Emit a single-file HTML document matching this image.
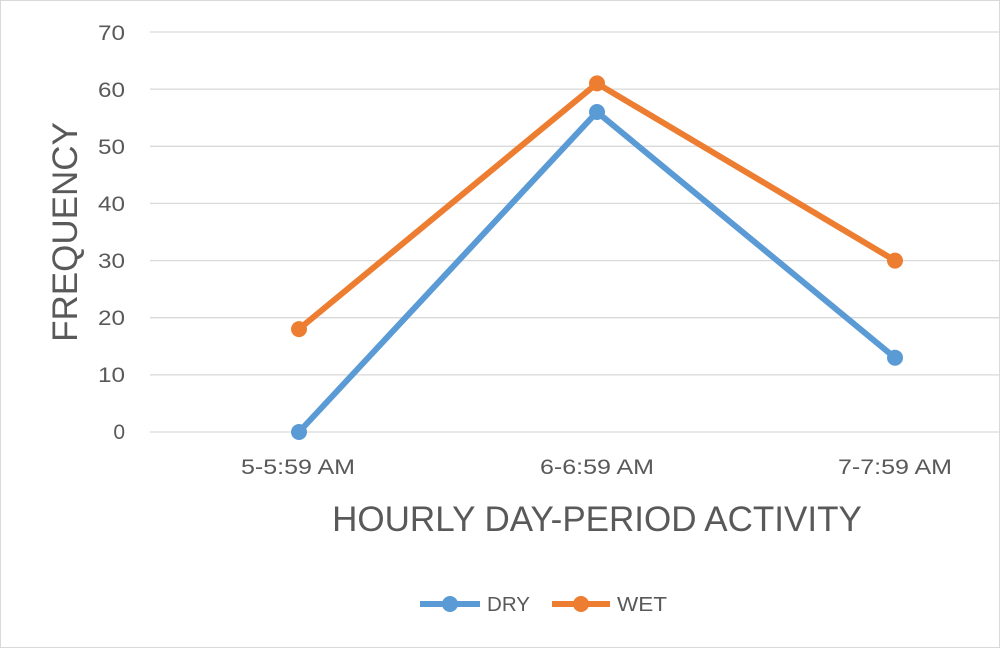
<!DOCTYPE html>
<html><head><meta charset="utf-8"><style>
html,body{margin:0;padding:0;background:#fff;}
svg{display:block;font-family:"Liberation Sans",sans-serif;}
</style></head><body>
<svg width="1000" height="648" viewBox="0 0 1000 648">
<rect x="0.5" y="0.5" width="999" height="647" fill="#fff" stroke="#d9d9d9"/>
<g stroke="#d9d9d9" stroke-width="1.3">
<line x1="150" y1="32" x2="1000" y2="32"/>
<line x1="150" y1="89.1" x2="1000" y2="89.1"/>
<line x1="150" y1="146.3" x2="1000" y2="146.3"/>
<line x1="150" y1="203.4" x2="1000" y2="203.4"/>
<line x1="150" y1="260.6" x2="1000" y2="260.6"/>
<line x1="150" y1="317.7" x2="1000" y2="317.7"/>
<line x1="150" y1="374.9" x2="1000" y2="374.9"/>
<line x1="150" y1="432" x2="1000" y2="432"/>
</g>
<g fill="#595959" font-size="21" text-anchor="end" lengthAdjust="spacingAndGlyphs">
<text x="125" y="40" textLength="27" lengthAdjust="spacingAndGlyphs">70</text>
<text x="125" y="97" textLength="27" lengthAdjust="spacingAndGlyphs">60</text>
<text x="125" y="154" textLength="27" lengthAdjust="spacingAndGlyphs">50</text>
<text x="125" y="211" textLength="27" lengthAdjust="spacingAndGlyphs">40</text>
<text x="125" y="268" textLength="27" lengthAdjust="spacingAndGlyphs">30</text>
<text x="125" y="325" textLength="27" lengthAdjust="spacingAndGlyphs">20</text>
<text x="125" y="382" textLength="27" lengthAdjust="spacingAndGlyphs">10</text>
<text x="125" y="439">0</text>
</g>
<g fill="#595959" font-size="21">
<text x="241" y="474" textLength="114" lengthAdjust="spacingAndGlyphs">5-5:59 AM</text>
<text x="540" y="474" textLength="114" lengthAdjust="spacingAndGlyphs">6-6:59 AM</text>
<text x="838" y="474" textLength="114" lengthAdjust="spacingAndGlyphs">7-7:59 AM</text>
</g>
<text x="597" y="531" fill="#595959" font-size="35" text-anchor="middle">HOURLY DAY-PERIOD ACTIVITY</text>
<text transform="translate(77,232) rotate(-90)" fill="#595959" font-size="35" text-anchor="middle">FREQUENCY</text>
<polyline points="299,432 597,112 895,357.7" fill="none" stroke="#5b9bd5" stroke-width="6" stroke-linejoin="round"/>
<polyline points="299,329.1 597,83.4 895,260.6" fill="none" stroke="#ed7d31" stroke-width="6" stroke-linejoin="round"/>
<g fill="#5b9bd5"><circle cx="299" cy="432" r="8"/><circle cx="597" cy="112" r="8"/><circle cx="895" cy="357.7" r="8"/></g>
<g fill="#ed7d31"><circle cx="299" cy="329.1" r="8"/><circle cx="597" cy="83.4" r="8"/><circle cx="895" cy="260.6" r="8"/></g>
<line x1="420" y1="604" x2="480" y2="604" stroke="#5b9bd5" stroke-width="6"/>
<circle cx="450" cy="604" r="8" fill="#5b9bd5"/>
<text x="487" y="611" fill="#595959" font-size="20" textLength="43" lengthAdjust="spacingAndGlyphs">DRY</text>
<line x1="552" y1="604" x2="610" y2="604" stroke="#ed7d31" stroke-width="6"/>
<circle cx="581" cy="604" r="8" fill="#ed7d31"/>
<text x="617" y="611" fill="#595959" font-size="20" textLength="50" lengthAdjust="spacingAndGlyphs">WET</text>
</svg>
</body></html>
